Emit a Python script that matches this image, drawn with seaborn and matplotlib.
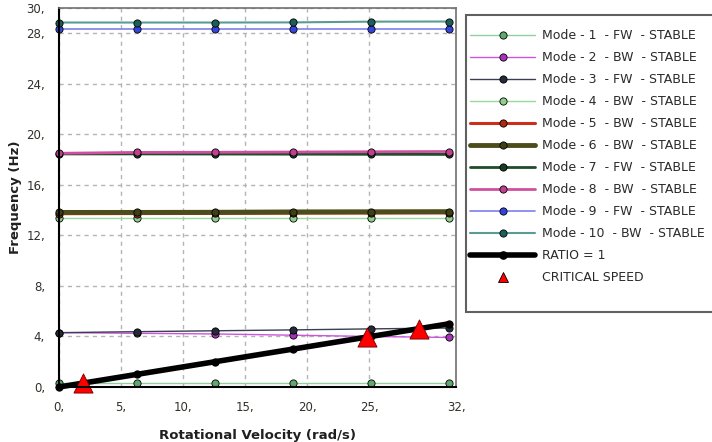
import numpy as np
import matplotlib
matplotlib.use("Agg")
import matplotlib.pyplot as plt
import seaborn as sns
from matplotlib.lines import Line2D
from matplotlib.patches import Rectangle

# Campbell diagram data
speed = [0.0, 6.28, 12.57, 18.85, 25.13, 31.42]  # rad/s

mode1 = [0.30, 0.30, 0.30, 0.30, 0.30, 0.30]
mode2 = [4.30, 4.25, 4.20, 4.10, 4.00, 3.92]
mode3 = [4.30, 4.38, 4.45, 4.52, 4.60, 4.67]
mode4 = [13.38, 13.38, 13.38, 13.38, 13.38, 13.38]
mode5 = [13.72, 13.73, 13.74, 13.76, 13.77, 13.78]
mode6 = [13.82, 13.82, 13.83, 13.86, 13.87, 13.88]
mode7 = [18.45, 18.45, 18.44, 18.43, 18.42, 18.41]
mode8 = [18.50, 18.57, 18.58, 18.60, 18.62, 18.64]
mode9 = [28.35, 28.35, 28.35, 28.35, 28.35, 28.35]
mode10 = [28.85, 28.85, 28.85, 28.86, 28.92, 28.93]
ratio = [0.0, 1.0, 2.0, 3.0, 4.0, 5.0]

crit_x = [1.9, 24.8, 29.0]
crit_y = [0.30, 3.95, 4.62]

mode_labels = ["Mode - 1  - FW  - STABLE", "Mode - 2  - BW  - STABLE",
               "Mode - 3  - FW  - STABLE", "Mode - 4  - BW  - STABLE",
               "Mode - 5  - BW  - STABLE", "Mode - 6  - BW  - STABLE",
               "Mode - 7  - FW  - STABLE", "Mode - 8  - BW  - STABLE",
               "Mode - 9  - FW  - STABLE", "Mode - 10  - BW  - STABLE"]

x_ticks = [0, 5, 10, 15, 20, 25, 32]
y_ticks = [0, 4, 8, 12, 16, 20, 24, 28, 30]

# style per mode: line colour, marker colour, line width
styles = [
    ("#8fd19e", "#5fa86e", 1.0),
    ("#cc55dd", "#a634b8", 1.0),
    ("#3a3f52", "#252a3a", 1.0),
    ("#9ad89c", "#8fd08f", 1.0),
    ("#c8301a", "#b02a10", 2.2),
    ("#4d4d1c", "#3f3f15", 3.5),
    ("#1f4d2b", "#173d22", 2.0),
    ("#d050a0", "#c04090", 2.0),
    ("#7b80ee", "#3344dd", 1.2),
    ("#5a9c94", "#1a5f5a", 1.5),
]

sns.set_style("white")
plt.rcParams['font.family'] = ['DejaVu Sans']

fig = plt.figure(figsize=(7.12, 4.42), dpi=100)
ax = fig.add_axes([59 / 712, 1 - 387 / 442, (456 - 59) / 712, (387 - 8) / 442])

ms = 5.2
all_modes = [mode1, mode2, mode3, mode4, mode5, mode6, mode7, mode8, mode9, mode10]
handles = []
for vals, lab, (lc, mc, lw) in zip(all_modes, mode_labels, styles):
    sns.lineplot(x=speed, y=vals, ax=ax, color=lc, linewidth=lw, marker="o",
                 markersize=ms, markerfacecolor=mc, markeredgecolor="black",
                 markeredgewidth=0.6, clip_on=False, zorder=3)
    handles.append(Line2D([], [], color=lc, lw=lw, marker="o", markersize=ms,
                          markerfacecolor=mc, markeredgecolor="black",
                          markeredgewidth=0.6, label=lab))

# ratio = 1 line
sns.lineplot(x=speed, y=ratio, ax=ax, color="black", linewidth=4, marker="o",
             markersize=ms, markerfacecolor="black", markeredgecolor="black",
             clip_on=False, zorder=4)
handles.append(Line2D([], [], color="black", lw=4, marker="o", markersize=ms,
                      markerfacecolor="black", label="RATIO = 1"))

# critical speeds
sns.scatterplot(x=crit_x, y=crit_y, ax=ax, marker="^", s=190, color="red",
                edgecolor="#700000", linewidth=0.6, zorder=5, clip_on=False)
handles.append(Line2D([], [], color="none", marker="^", markersize=6.5,
                      markerfacecolor="red", markeredgecolor="black",
                      markeredgewidth=0.6, label="CRITICAL SPEED"))

ax.set_xlim(0, 32)
ax.set_ylim(0, 30)
ax.set_xticks(x_ticks)
ax.set_yticks(y_ticks)
ax.set_xticklabels([f"{t}," for t in x_ticks])
ax.set_yticklabels([f"{t}," for t in y_ticks])
ax.tick_params(axis="both", direction="out", length=6, width=1, color="#a0a0a0",
               labelsize=8.5, labelcolor="#33302a", pad=4)

ax.grid(True, color="#b4b4b4", linestyle=(0, (3, 3)), linewidth=1)
for s in ["left", "bottom"]:
    ax.spines[s].set_color("black")
    ax.spines[s].set_linewidth(1.5)
for s in ["top", "right"]:
    ax.spines[s].set_color("#707070")
    ax.spines[s].set_linewidth(1.2)
for s in ax.spines.values():
    s.set_zorder(6)

ax.set_xlabel("Rotational Velocity (rad/s)", fontsize=9.5, fontweight="bold",
              color="#202020", labelpad=11)
ax.set_ylabel("Frequency (Hz)", fontsize=9.5, fontweight="bold",
              color="#202020", labelpad=3)

# legend box drawn separately so the entries can sit close to its left edge
W, H = 712, 442
fig.patches.append(Rectangle((466 / W, 1 - 312 / H), 260 / W, (312 - 15) / H,
                             transform=fig.transFigure, facecolor="white",
                             edgecolor="#606060", linewidth=1.5, zorder=0))
leg = fig.legend(handles=handles, loc="upper left",
                 bbox_to_anchor=(470 / W, 1 - 29 / H),
                 bbox_transform=fig.transFigure, borderaxespad=0,
                 fontsize=9, handlelength=5.2, handletextpad=0.55,
                 labelspacing=0.72, borderpad=0, frameon=False)
for t in leg.get_texts():
    t.set_color("#2a2a2a")

fig.savefig("out.png", dpi=100)
